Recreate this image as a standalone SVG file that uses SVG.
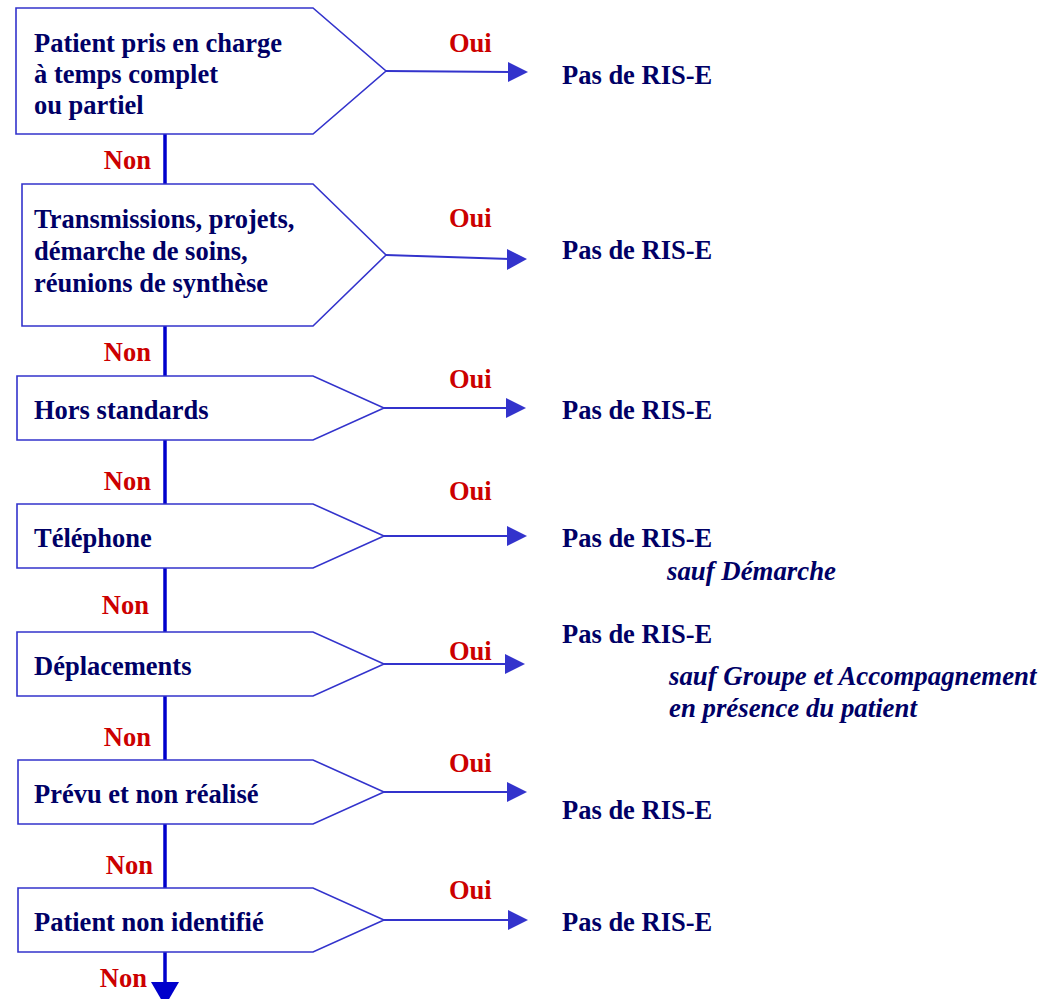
<svg xmlns="http://www.w3.org/2000/svg" width="1039" height="999" viewBox="0 0 1039 999">
<style>
.box{fill:#fff;stroke:#3333cc;stroke-width:1.6}
.t{font-family:"Liberation Serif","Times New Roman",serif;font-weight:bold;font-size:26.5px;fill:#000066}
.it{font-style:italic;font-size:26.8px}
.oui{font-family:"Liberation Serif","Times New Roman",serif;font-weight:bold;font-size:26.5px;fill:#cc0000}
.non{font-family:"Liberation Serif","Times New Roman",serif;font-weight:bold;font-size:26.5px;fill:#cc0000;text-anchor:end}
.ln{stroke:#3333cc;stroke-width:1.8;fill:none}
.main{stroke:#0000cc;stroke-width:3.5;fill:none}
.ah{fill:#3333cc}
</style>
<rect width="1039" height="999" fill="#fff"/>
<g id="connectors">
<line class="main" x1="165" y1="134" x2="165" y2="984"/>
<polygon points="151,982 179,982 165,1006" fill="#0000cc"/>
<line class="ln" x1="386" y1="71" x2="510" y2="72"/>
<polygon class="ah" points="508,62 528,72 508,82"/>
<line class="ln" x1="386" y1="255" x2="510" y2="259"/>
<polygon class="ah" points="507,249 527,259 507,270"/>
<line class="ln" x1="384" y1="408" x2="510" y2="408"/>
<polygon class="ah" points="506,398 526,408 506,418"/>
<line class="ln" x1="384" y1="536" x2="510" y2="536"/>
<polygon class="ah" points="507,526 527,536 507,546"/>
<line class="ln" x1="384" y1="664" x2="508" y2="664"/>
<polygon class="ah" points="505,654 525,664 505,674"/>
<line class="ln" x1="384" y1="792" x2="510" y2="792"/>
<polygon class="ah" points="507,782 527,792 507,802"/>
<line class="ln" x1="384" y1="920" x2="510" y2="920"/>
<polygon class="ah" points="508,910 528,920 508,930"/>
<text class="oui" x="449" y="52">Oui</text>
<text class="oui" x="449" y="227">Oui</text>
<text class="oui" x="449" y="388">Oui</text>
<text class="oui" x="449" y="500">Oui</text>
<text class="oui" x="449" y="660">Oui</text>
<text class="oui" x="449" y="772">Oui</text>
<text class="oui" x="449" y="899">Oui</text>
<text class="non" x="151" y="169">Non</text>
<text class="non" x="151" y="361">Non</text>
<text class="non" x="151" y="490">Non</text>
<text class="non" x="149" y="614">Non</text>
<text class="non" x="151" y="746">Non</text>
<text class="non" x="153" y="874">Non</text>
<text class="non" x="147" y="987">Non</text>
</g>
<g id="n1">
<polygon class="box" points="16,8 313,8 386,71 313,134 16,134"/>
<text class="t" x="34" y="52">Patient pris en charge</text>
<text class="t" x="34" y="83">à temps complet</text>
<text class="t" x="34" y="114">ou partiel</text>
</g>
<g id="n2">
<polygon class="box" points="22,184 313,184 386,255 313,326 22,326"/>
<text class="t" x="34" y="228">Transmissions, projets,</text>
<text class="t" x="34" y="260">démarche de soins,</text>
<text class="t" x="34" y="292">réunions de synthèse</text>
</g>
<g id="n3">
<polygon class="box" points="17,376 313,376 384,408 313,440 17,440"/>
<text class="t" x="34" y="419">Hors standards</text>
</g>
<g id="n4">
<polygon class="box" points="17,504 313,504 384,536 313,568 17,568"/>
<text class="t" x="34" y="547">Téléphone</text>
</g>
<g id="n5">
<polygon class="box" points="17,632 313,632 384,664 313,696 17,696"/>
<text class="t" x="34" y="675">Déplacements</text>
</g>
<g id="n6">
<polygon class="box" points="18,760 313,760 384,792 313,824 18,824"/>
<text class="t" x="34" y="803">Prévu et non réalisé</text>
</g>
<g id="n7">
<polygon class="box" points="18,888 313,888 384,920 313,952 18,952"/>
<text class="t" x="34" y="931">Patient non identifié</text>
</g>
<g id="r1"><text class="t" x="562" y="84">Pas de RIS-E</text></g>
<g id="r2"><text class="t" x="562" y="259">Pas de RIS-E</text></g>
<g id="r3"><text class="t" x="562" y="419">Pas de RIS-E</text></g>
<g id="r4"><text class="t" x="562" y="547">Pas de RIS-E</text>
<text class="t it" x="667" y="580">sauf Démarche</text></g>
<g id="r5"><text class="t" x="562" y="643">Pas de RIS-E</text>
<text class="t it" x="669" y="685">sauf Groupe et Accompagnement</text>
<text class="t it" x="669" y="717">en présence du patient</text></g>
<g id="r6"><text class="t" x="562" y="819">Pas de RIS-E</text></g>
<g id="r7"><text class="t" x="562" y="931">Pas de RIS-E</text></g>
</svg>
